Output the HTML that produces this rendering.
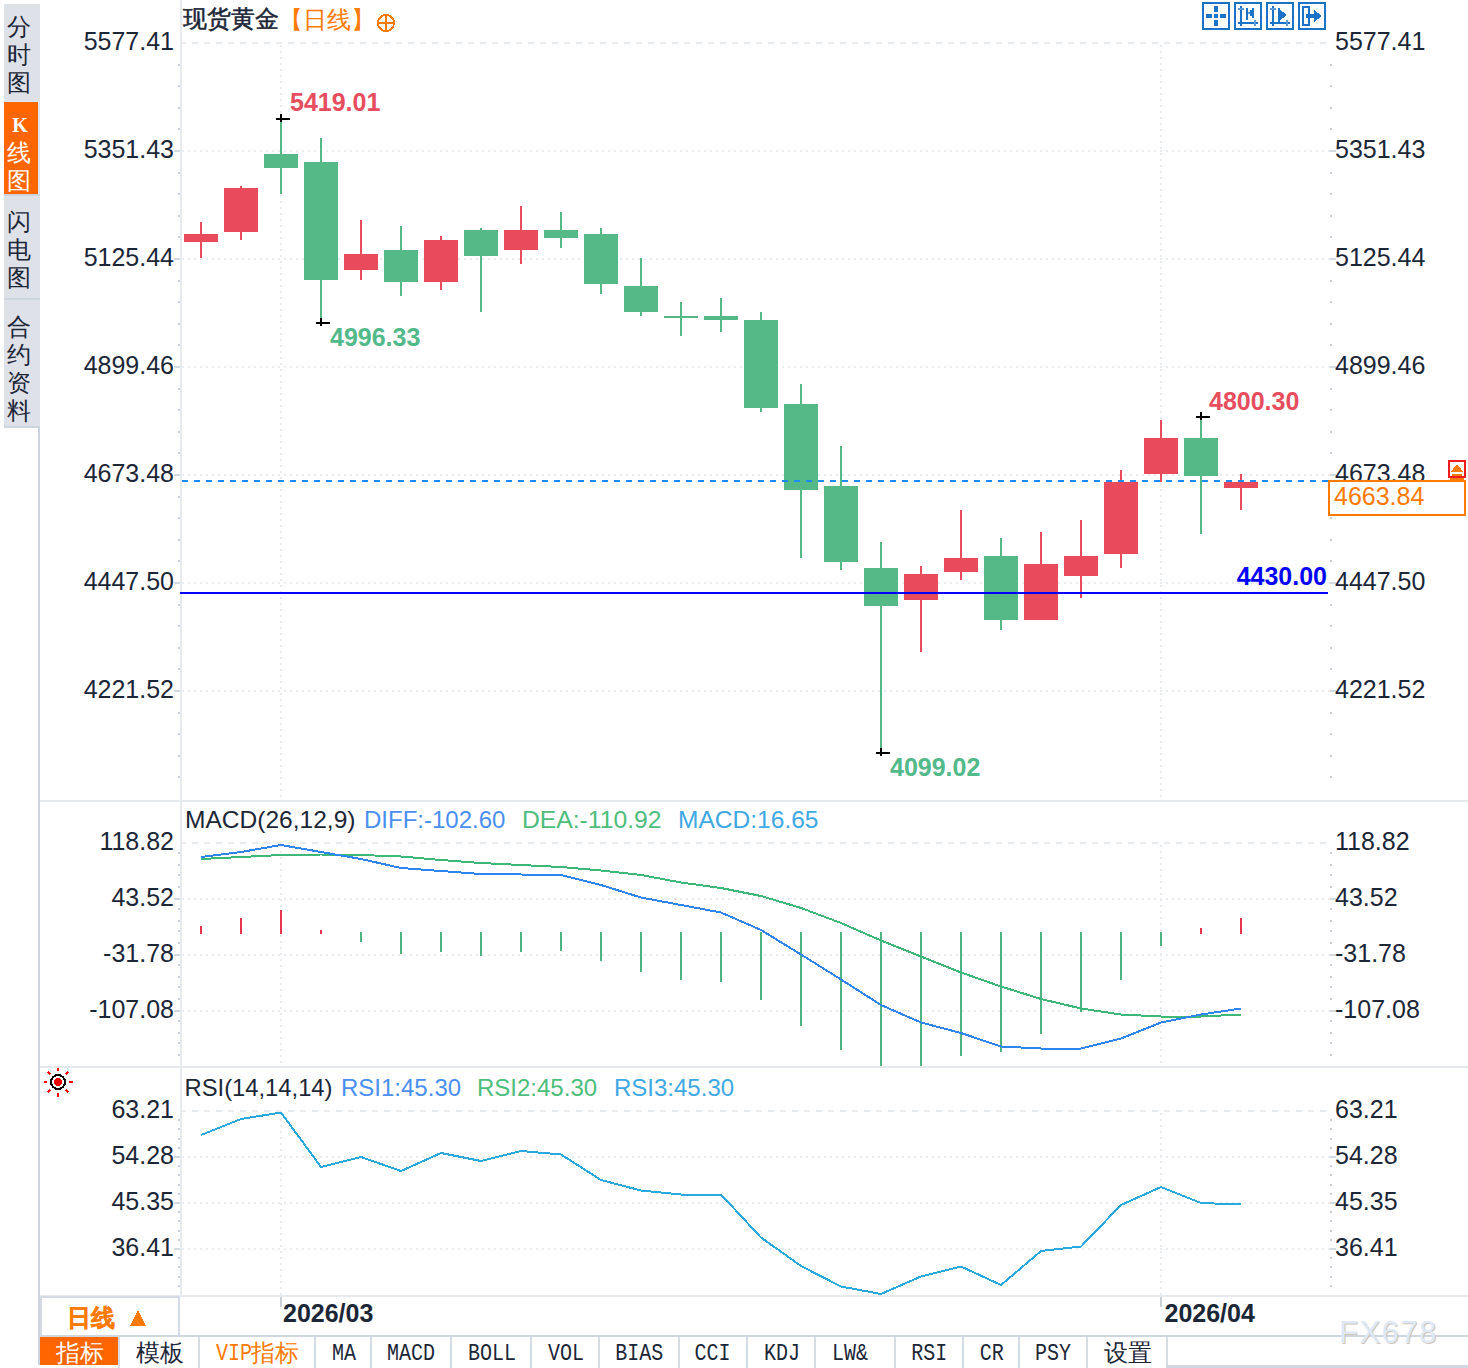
<!DOCTYPE html>
<html><head><meta charset="utf-8"><style>
html,body{margin:0;padding:0;background:#fff;}
body{width:1468px;height:1368px;overflow:hidden;}
svg{display:block;font-family:"Liberation Sans", sans-serif;}
</style></head><body>
<svg width="1468" height="1368" viewBox="0 0 1468 1368" shape-rendering="crispEdges">
<rect x="4" y="4" width="36" height="97" fill="#dfe1e8"/>
<rect x="4" y="101" width="36" height="1" fill="#dde8f4"/>
<rect x="4" y="102" width="34" height="92" fill="#ff6600"/>
<rect x="38" y="102" width="2" height="92" fill="#dde6f0"/>
<rect x="4" y="194" width="36" height="2" fill="#cdd6df"/>
<rect x="4" y="196" width="36" height="102" fill="#dfe1e8"/>
<rect x="4" y="298" width="36" height="2" fill="#cdd6df"/>
<rect x="4" y="300" width="36" height="126" fill="#dfe1e8"/>
<rect x="4" y="426" width="36" height="2" fill="#cdd6df"/>
<rect x="38" y="428" width="2" height="937" fill="#cdd5e0"/>
<text x="19" y="35" font-size="24" fill="#1b2637" text-anchor="middle" font-weight="500">分</text>
<text x="19" y="63" font-size="24" fill="#1b2637" text-anchor="middle" font-weight="500">时</text>
<text x="19" y="91" font-size="24" fill="#1b2637" text-anchor="middle" font-weight="500">图</text>
<text x="20" y="132" font-size="20" fill="#fff" text-anchor="middle" font-family="Liberation Serif" font-weight="bold">K</text>
<text x="19" y="161" font-size="24" fill="#fff" text-anchor="middle" font-weight="500">线</text>
<text x="19" y="189" font-size="24" fill="#fff" text-anchor="middle" font-weight="500">图</text>
<text x="19" y="230" font-size="24" fill="#1b2637" text-anchor="middle" font-weight="500">闪</text>
<text x="19" y="258" font-size="24" fill="#1b2637" text-anchor="middle" font-weight="500">电</text>
<text x="19" y="286" font-size="24" fill="#1b2637" text-anchor="middle" font-weight="500">图</text>
<text x="19" y="335" font-size="24" fill="#1b2637" text-anchor="middle" font-weight="500">合</text>
<text x="19" y="363" font-size="24" fill="#1b2637" text-anchor="middle" font-weight="500">约</text>
<text x="19" y="391" font-size="24" fill="#1b2637" text-anchor="middle" font-weight="500">资</text>
<text x="19" y="419" font-size="24" fill="#1b2637" text-anchor="middle" font-weight="500">料</text>
<text x="183" y="27" font-size="24" fill="#1b2637" font-weight="500" stroke="#1b2637" stroke-width="0.5">现货黄金</text>
<text x="279" y="28" font-size="24" fill="#ff7a00" font-weight="500">【日线】</text>
<circle cx="386" cy="23" r="8" fill="none" stroke="#ff7a00" stroke-width="2"/>
<rect x="377" y="22" width="18" height="2" fill="#ff7a00"/>
<rect x="385" y="14" width="2" height="18" fill="#ff7a00"/>
<rect x="1203" y="3" width="26" height="26" fill="none" stroke="#1a72c9" stroke-width="2"/>
<rect x="1235" y="3" width="26" height="26" fill="none" stroke="#1a72c9" stroke-width="2"/>
<rect x="1267" y="3" width="26" height="26" fill="none" stroke="#1a72c9" stroke-width="2"/>
<rect x="1299" y="3" width="26" height="26" fill="none" stroke="#1a72c9" stroke-width="2"/>
<rect x="1206" y="14" width="6" height="4" fill="#1a72c9"/>
<rect x="1214" y="14" width="4" height="4" fill="#1a72c9"/>
<rect x="1220" y="14" width="6" height="4" fill="#1a72c9"/>
<rect x="1214" y="6" width="4" height="6" fill="#1a72c9"/>
<rect x="1214" y="20" width="4" height="6" fill="#1a72c9"/>
<rect x="1240" y="6" width="2" height="20" fill="#1a72c9"/>
<rect x="1238" y="22" width="20" height="2" fill="#1a72c9"/>
<rect x="1238" y="8" width="6" height="2" fill="#5f9bd8"/>
<rect x="1254" y="20" width="2" height="6" fill="#5f9bd8"/>
<rect x="1272" y="6" width="2" height="20" fill="#1a72c9"/>
<rect x="1270" y="22" width="20" height="2" fill="#1a72c9"/>
<rect x="1270" y="8" width="6" height="2" fill="#5f9bd8"/>
<rect x="1286" y="20" width="2" height="6" fill="#5f9bd8"/>
<rect x="1246" y="8" width="2" height="12" fill="#1a72c9"/>
<rect x="1248" y="12" width="2" height="2" fill="#5f9bd8"/>
<rect x="1250" y="10" width="2" height="6" fill="#1a72c9"/>
<rect x="1252" y="8" width="2" height="10" fill="#1a72c9"/>
<polygon points="1278,8 1287,15 1278,22" fill="#1a72c9"/>
<rect x="1278" y="8" width="2" height="14" fill="#1a72c9"/>
<rect x="1303" y="7" width="6" height="18" fill="none" stroke="#1a72c9" stroke-width="2"/>
<rect x="1306" y="14" width="10" height="4" fill="#1a72c9"/>
<polygon points="1314,10 1322,16 1314,22" fill="#1a72c9"/>
<rect x="40" y="800" width="1428" height="2" fill="#e6eaef"/>
<rect x="40" y="1066" width="1428" height="2" fill="#e6eaef"/>
<rect x="40" y="1295" width="1428" height="2" fill="#e6eaef"/>
<rect x="180" y="0" width="2" height="1296" fill="#e6ebf0"/>
<line x1="182" y1="43" x2="1328" y2="43" stroke="#e8ebef" stroke-width="2" stroke-dasharray="6 6" stroke-dashoffset="2"/>
<text x="174" y="50" font-size="25" fill="#1b2637" text-anchor="end" font-weight="normal" >5577.41</text>
<text x="1335" y="50" font-size="25" fill="#1b2637" text-anchor="start" font-weight="normal" >5577.41</text>
<line x1="182" y1="151" x2="1330" y2="151" stroke="#e8ebef" stroke-width="2" stroke-dasharray="2 4" stroke-dashoffset="0"/>
<rect x="174" y="150" width="6" height="2" fill="#d5dbe3"/>
<rect x="1330" y="150" width="6" height="2" fill="#d5dbe3"/>
<text x="174" y="158" font-size="25" fill="#1b2637" text-anchor="end" font-weight="normal" >5351.43</text>
<text x="1335" y="158" font-size="25" fill="#1b2637" text-anchor="start" font-weight="normal" >5351.43</text>
<line x1="182" y1="259" x2="1330" y2="259" stroke="#e8ebef" stroke-width="2" stroke-dasharray="2 4" stroke-dashoffset="0"/>
<rect x="174" y="258" width="6" height="2" fill="#d5dbe3"/>
<rect x="1330" y="258" width="6" height="2" fill="#d5dbe3"/>
<text x="174" y="266" font-size="25" fill="#1b2637" text-anchor="end" font-weight="normal" >5125.44</text>
<text x="1335" y="266" font-size="25" fill="#1b2637" text-anchor="start" font-weight="normal" >5125.44</text>
<line x1="182" y1="367" x2="1330" y2="367" stroke="#e8ebef" stroke-width="2" stroke-dasharray="2 4" stroke-dashoffset="0"/>
<rect x="174" y="366" width="6" height="2" fill="#d5dbe3"/>
<rect x="1330" y="366" width="6" height="2" fill="#d5dbe3"/>
<text x="174" y="374" font-size="25" fill="#1b2637" text-anchor="end" font-weight="normal" >4899.46</text>
<text x="1335" y="374" font-size="25" fill="#1b2637" text-anchor="start" font-weight="normal" >4899.46</text>
<line x1="182" y1="475" x2="1330" y2="475" stroke="#e8ebef" stroke-width="2" stroke-dasharray="2 4" stroke-dashoffset="0"/>
<rect x="174" y="474" width="6" height="2" fill="#d5dbe3"/>
<rect x="1330" y="474" width="6" height="2" fill="#d5dbe3"/>
<text x="174" y="482" font-size="25" fill="#1b2637" text-anchor="end" font-weight="normal" >4673.48</text>
<text x="1335" y="482" font-size="25" fill="#1b2637" text-anchor="start" font-weight="normal" >4673.48</text>
<line x1="182" y1="583" x2="1330" y2="583" stroke="#e8ebef" stroke-width="2" stroke-dasharray="2 4" stroke-dashoffset="0"/>
<rect x="174" y="582" width="6" height="2" fill="#d5dbe3"/>
<rect x="1330" y="582" width="6" height="2" fill="#d5dbe3"/>
<text x="174" y="590" font-size="25" fill="#1b2637" text-anchor="end" font-weight="normal" >4447.50</text>
<text x="1335" y="590" font-size="25" fill="#1b2637" text-anchor="start" font-weight="normal" >4447.50</text>
<line x1="182" y1="691" x2="1330" y2="691" stroke="#e8ebef" stroke-width="2" stroke-dasharray="2 4" stroke-dashoffset="0"/>
<rect x="174" y="690" width="6" height="2" fill="#d5dbe3"/>
<rect x="1330" y="690" width="6" height="2" fill="#d5dbe3"/>
<text x="174" y="698" font-size="25" fill="#1b2637" text-anchor="end" font-weight="normal" >4221.52</text>
<text x="1335" y="698" font-size="25" fill="#1b2637" text-anchor="start" font-weight="normal" >4221.52</text>
<rect x="178" y="64" width="2" height="2" fill="#c9d0d9"/>
<rect x="1330" y="64" width="2" height="2" fill="#c9d0d9"/>
<rect x="178" y="85" width="2" height="2" fill="#c9d0d9"/>
<rect x="1330" y="85" width="2" height="2" fill="#c9d0d9"/>
<rect x="178" y="107" width="2" height="2" fill="#c9d0d9"/>
<rect x="1330" y="107" width="2" height="2" fill="#c9d0d9"/>
<rect x="178" y="128" width="2" height="2" fill="#c9d0d9"/>
<rect x="1330" y="128" width="2" height="2" fill="#c9d0d9"/>
<rect x="178" y="172" width="2" height="2" fill="#c9d0d9"/>
<rect x="1330" y="172" width="2" height="2" fill="#c9d0d9"/>
<rect x="178" y="193" width="2" height="2" fill="#c9d0d9"/>
<rect x="1330" y="193" width="2" height="2" fill="#c9d0d9"/>
<rect x="178" y="215" width="2" height="2" fill="#c9d0d9"/>
<rect x="1330" y="215" width="2" height="2" fill="#c9d0d9"/>
<rect x="178" y="236" width="2" height="2" fill="#c9d0d9"/>
<rect x="1330" y="236" width="2" height="2" fill="#c9d0d9"/>
<rect x="178" y="280" width="2" height="2" fill="#c9d0d9"/>
<rect x="1330" y="280" width="2" height="2" fill="#c9d0d9"/>
<rect x="178" y="301" width="2" height="2" fill="#c9d0d9"/>
<rect x="1330" y="301" width="2" height="2" fill="#c9d0d9"/>
<rect x="178" y="323" width="2" height="2" fill="#c9d0d9"/>
<rect x="1330" y="323" width="2" height="2" fill="#c9d0d9"/>
<rect x="178" y="344" width="2" height="2" fill="#c9d0d9"/>
<rect x="1330" y="344" width="2" height="2" fill="#c9d0d9"/>
<rect x="178" y="388" width="2" height="2" fill="#c9d0d9"/>
<rect x="1330" y="388" width="2" height="2" fill="#c9d0d9"/>
<rect x="178" y="409" width="2" height="2" fill="#c9d0d9"/>
<rect x="1330" y="409" width="2" height="2" fill="#c9d0d9"/>
<rect x="178" y="431" width="2" height="2" fill="#c9d0d9"/>
<rect x="1330" y="431" width="2" height="2" fill="#c9d0d9"/>
<rect x="178" y="452" width="2" height="2" fill="#c9d0d9"/>
<rect x="1330" y="452" width="2" height="2" fill="#c9d0d9"/>
<rect x="178" y="496" width="2" height="2" fill="#c9d0d9"/>
<rect x="1330" y="496" width="2" height="2" fill="#c9d0d9"/>
<rect x="178" y="517" width="2" height="2" fill="#c9d0d9"/>
<rect x="1330" y="517" width="2" height="2" fill="#c9d0d9"/>
<rect x="178" y="539" width="2" height="2" fill="#c9d0d9"/>
<rect x="1330" y="539" width="2" height="2" fill="#c9d0d9"/>
<rect x="178" y="560" width="2" height="2" fill="#c9d0d9"/>
<rect x="1330" y="560" width="2" height="2" fill="#c9d0d9"/>
<rect x="178" y="604" width="2" height="2" fill="#c9d0d9"/>
<rect x="1330" y="604" width="2" height="2" fill="#c9d0d9"/>
<rect x="178" y="625" width="2" height="2" fill="#c9d0d9"/>
<rect x="1330" y="625" width="2" height="2" fill="#c9d0d9"/>
<rect x="178" y="647" width="2" height="2" fill="#c9d0d9"/>
<rect x="1330" y="647" width="2" height="2" fill="#c9d0d9"/>
<rect x="178" y="668" width="2" height="2" fill="#c9d0d9"/>
<rect x="1330" y="668" width="2" height="2" fill="#c9d0d9"/>
<rect x="178" y="712" width="2" height="2" fill="#c9d0d9"/>
<rect x="1330" y="712" width="2" height="2" fill="#c9d0d9"/>
<rect x="178" y="733" width="2" height="2" fill="#c9d0d9"/>
<rect x="1330" y="733" width="2" height="2" fill="#c9d0d9"/>
<rect x="178" y="755" width="2" height="2" fill="#c9d0d9"/>
<rect x="1330" y="755" width="2" height="2" fill="#c9d0d9"/>
<rect x="178" y="776" width="2" height="2" fill="#c9d0d9"/>
<rect x="1330" y="776" width="2" height="2" fill="#c9d0d9"/>
<line x1="281" y1="45" x2="281" y2="800" stroke="#e8ebef" stroke-width="2" stroke-dasharray="2 4"/>
<line x1="1161" y1="45" x2="1161" y2="800" stroke="#e8ebef" stroke-width="2" stroke-dasharray="2 4"/>
<line x1="281" y1="845" x2="281" y2="1066" stroke="#e8ebef" stroke-width="2" stroke-dasharray="2 4"/>
<line x1="1161" y1="845" x2="1161" y2="1066" stroke="#e8ebef" stroke-width="2" stroke-dasharray="2 4"/>
<line x1="281" y1="1113" x2="281" y2="1296" stroke="#e8ebef" stroke-width="2" stroke-dasharray="2 4"/>
<line x1="1161" y1="1113" x2="1161" y2="1296" stroke="#e8ebef" stroke-width="2" stroke-dasharray="2 4"/>
<rect x="200" y="222" width="2" height="36" fill="#e94b5c"/>
<rect x="184" y="234" width="34" height="8" fill="#e94b5c"/>
<rect x="240" y="186" width="2" height="54" fill="#e94b5c"/>
<rect x="224" y="188" width="34" height="44" fill="#e94b5c"/>
<rect x="280" y="118" width="2" height="76" fill="#55b887"/>
<rect x="264" y="154" width="34" height="14" fill="#55b887"/>
<rect x="320" y="138" width="2" height="184" fill="#55b887"/>
<rect x="304" y="162" width="34" height="118" fill="#55b887"/>
<rect x="360" y="220" width="2" height="60" fill="#e94b5c"/>
<rect x="344" y="254" width="34" height="16" fill="#e94b5c"/>
<rect x="400" y="226" width="2" height="70" fill="#55b887"/>
<rect x="384" y="250" width="34" height="32" fill="#55b887"/>
<rect x="440" y="236" width="2" height="54" fill="#e94b5c"/>
<rect x="424" y="240" width="34" height="42" fill="#e94b5c"/>
<rect x="480" y="228" width="2" height="84" fill="#55b887"/>
<rect x="464" y="230" width="34" height="26" fill="#55b887"/>
<rect x="520" y="206" width="2" height="58" fill="#e94b5c"/>
<rect x="504" y="230" width="34" height="20" fill="#e94b5c"/>
<rect x="560" y="212" width="2" height="36" fill="#55b887"/>
<rect x="544" y="230" width="34" height="8" fill="#55b887"/>
<rect x="600" y="228" width="2" height="66" fill="#55b887"/>
<rect x="584" y="234" width="34" height="50" fill="#55b887"/>
<rect x="640" y="258" width="2" height="58" fill="#55b887"/>
<rect x="624" y="286" width="34" height="26" fill="#55b887"/>
<rect x="680" y="302" width="2" height="34" fill="#55b887"/>
<rect x="664" y="316" width="34" height="2" fill="#55b887"/>
<rect x="720" y="298" width="2" height="34" fill="#55b887"/>
<rect x="704" y="316" width="34" height="4" fill="#55b887"/>
<rect x="760" y="312" width="2" height="100" fill="#55b887"/>
<rect x="744" y="320" width="34" height="88" fill="#55b887"/>
<rect x="800" y="384" width="2" height="174" fill="#55b887"/>
<rect x="784" y="404" width="34" height="86" fill="#55b887"/>
<rect x="840" y="446" width="2" height="124" fill="#55b887"/>
<rect x="824" y="486" width="34" height="76" fill="#55b887"/>
<rect x="880" y="542" width="2" height="210" fill="#55b887"/>
<rect x="864" y="568" width="34" height="38" fill="#55b887"/>
<rect x="920" y="566" width="2" height="86" fill="#e94b5c"/>
<rect x="904" y="574" width="34" height="26" fill="#e94b5c"/>
<rect x="960" y="510" width="2" height="70" fill="#e94b5c"/>
<rect x="944" y="558" width="34" height="14" fill="#e94b5c"/>
<rect x="1000" y="538" width="2" height="92" fill="#55b887"/>
<rect x="984" y="556" width="34" height="64" fill="#55b887"/>
<rect x="1040" y="532" width="2" height="88" fill="#e94b5c"/>
<rect x="1024" y="564" width="34" height="56" fill="#e94b5c"/>
<rect x="1080" y="520" width="2" height="78" fill="#e94b5c"/>
<rect x="1064" y="556" width="34" height="20" fill="#e94b5c"/>
<rect x="1120" y="470" width="2" height="98" fill="#e94b5c"/>
<rect x="1104" y="482" width="34" height="72" fill="#e94b5c"/>
<rect x="1160" y="420" width="2" height="62" fill="#e94b5c"/>
<rect x="1144" y="438" width="34" height="36" fill="#e94b5c"/>
<rect x="1200" y="416" width="2" height="118" fill="#55b887"/>
<rect x="1184" y="438" width="34" height="38" fill="#55b887"/>
<rect x="1240" y="474" width="2" height="36" fill="#e94b5c"/>
<rect x="1224" y="482" width="34" height="6" fill="#e94b5c"/>
<rect x="276" y="118" width="14" height="2" fill="#000"/>
<rect x="280" y="114" width="2" height="8" fill="#000"/>
<rect x="316" y="322" width="14" height="2" fill="#000"/>
<rect x="320" y="318" width="2" height="8" fill="#000"/>
<rect x="876" y="752" width="14" height="2" fill="#000"/>
<rect x="880" y="748" width="2" height="8" fill="#000"/>
<rect x="1196" y="416" width="14" height="2" fill="#000"/>
<rect x="1200" y="412" width="2" height="8" fill="#000"/>
<text x="290" y="111" font-size="25" fill="#e84d5e" text-anchor="start" font-weight="bold" >5419.01</text>
<text x="330" y="346" font-size="25" fill="#52b98a" text-anchor="start" font-weight="bold" >4996.33</text>
<text x="890" y="776" font-size="25" fill="#52b98a" text-anchor="start" font-weight="bold" >4099.02</text>
<text x="1209" y="410" font-size="25" fill="#e84d5e" text-anchor="start" font-weight="bold" >4800.30</text>
<line x1="182" y1="481" x2="1328" y2="481" stroke="#1a8cff" stroke-width="2" stroke-dasharray="6 6"/>
<rect x="1329" y="481" width="136" height="34" fill="#fff" stroke="#ff7a00" stroke-width="2"/>
<text x="1334" y="505" font-size="25" fill="#ff7a00" text-anchor="start" font-weight="normal" >4663.84</text>
<rect x="180" y="592" width="1148" height="2" fill="#0000ff"/>
<text x="1327" y="585" font-size="25" fill="#0000ff" text-anchor="end" font-weight="bold" >4430.00</text>
<rect x="1449" y="461" width="16" height="16" fill="none" stroke="#ee1c1c" stroke-width="2"/>
<polygon points="1457,464 1463.5,472 1450.5,472" fill="#ff7a00"/>
<rect x="1452" y="474" width="10" height="2" fill="#ff7a00"/>
<rect x="1450" y="478" width="14" height="2" fill="#ff7a00"/>
<line x1="182" y1="843" x2="1328" y2="843" stroke="#e8ebef" stroke-width="2" stroke-dasharray="6 6" stroke-dashoffset="2"/>
<text x="174" y="850" font-size="25" fill="#1b2637" text-anchor="end" font-weight="normal" >118.82</text>
<text x="1335" y="850" font-size="25" fill="#1b2637" text-anchor="start" font-weight="normal" >118.82</text>
<line x1="182" y1="899" x2="1330" y2="899" stroke="#e8ebef" stroke-width="2" stroke-dasharray="2 4" stroke-dashoffset="0"/>
<rect x="174" y="898" width="6" height="2" fill="#d5dbe3"/>
<rect x="1330" y="898" width="6" height="2" fill="#d5dbe3"/>
<text x="174" y="906" font-size="25" fill="#1b2637" text-anchor="end" font-weight="normal" >43.52</text>
<text x="1335" y="906" font-size="25" fill="#1b2637" text-anchor="start" font-weight="normal" >43.52</text>
<line x1="182" y1="955" x2="1330" y2="955" stroke="#e8ebef" stroke-width="2" stroke-dasharray="2 4" stroke-dashoffset="0"/>
<rect x="174" y="954" width="6" height="2" fill="#d5dbe3"/>
<rect x="1330" y="954" width="6" height="2" fill="#d5dbe3"/>
<text x="174" y="962" font-size="25" fill="#1b2637" text-anchor="end" font-weight="normal" >-31.78</text>
<text x="1335" y="962" font-size="25" fill="#1b2637" text-anchor="start" font-weight="normal" >-31.78</text>
<line x1="182" y1="1011" x2="1330" y2="1011" stroke="#e8ebef" stroke-width="2" stroke-dasharray="2 4" stroke-dashoffset="0"/>
<rect x="174" y="1010" width="6" height="2" fill="#d5dbe3"/>
<rect x="1330" y="1010" width="6" height="2" fill="#d5dbe3"/>
<text x="174" y="1018" font-size="25" fill="#1b2637" text-anchor="end" font-weight="normal" >-107.08</text>
<text x="1335" y="1018" font-size="25" fill="#1b2637" text-anchor="start" font-weight="normal" >-107.08</text>
<rect x="178" y="852" width="2" height="2" fill="#c9d0d9"/>
<rect x="1330" y="852" width="2" height="2" fill="#c9d0d9"/>
<rect x="178" y="864" width="2" height="2" fill="#c9d0d9"/>
<rect x="1330" y="864" width="2" height="2" fill="#c9d0d9"/>
<rect x="178" y="874" width="2" height="2" fill="#c9d0d9"/>
<rect x="1330" y="874" width="2" height="2" fill="#c9d0d9"/>
<rect x="178" y="886" width="2" height="2" fill="#c9d0d9"/>
<rect x="1330" y="886" width="2" height="2" fill="#c9d0d9"/>
<rect x="178" y="908" width="2" height="2" fill="#c9d0d9"/>
<rect x="1330" y="908" width="2" height="2" fill="#c9d0d9"/>
<rect x="178" y="920" width="2" height="2" fill="#c9d0d9"/>
<rect x="1330" y="920" width="2" height="2" fill="#c9d0d9"/>
<rect x="178" y="930" width="2" height="2" fill="#c9d0d9"/>
<rect x="1330" y="930" width="2" height="2" fill="#c9d0d9"/>
<rect x="178" y="942" width="2" height="2" fill="#c9d0d9"/>
<rect x="1330" y="942" width="2" height="2" fill="#c9d0d9"/>
<rect x="178" y="964" width="2" height="2" fill="#c9d0d9"/>
<rect x="1330" y="964" width="2" height="2" fill="#c9d0d9"/>
<rect x="178" y="976" width="2" height="2" fill="#c9d0d9"/>
<rect x="1330" y="976" width="2" height="2" fill="#c9d0d9"/>
<rect x="178" y="986" width="2" height="2" fill="#c9d0d9"/>
<rect x="1330" y="986" width="2" height="2" fill="#c9d0d9"/>
<rect x="178" y="998" width="2" height="2" fill="#c9d0d9"/>
<rect x="1330" y="998" width="2" height="2" fill="#c9d0d9"/>
<rect x="178" y="1020" width="2" height="2" fill="#c9d0d9"/>
<rect x="1330" y="1020" width="2" height="2" fill="#c9d0d9"/>
<rect x="178" y="1032" width="2" height="2" fill="#c9d0d9"/>
<rect x="1330" y="1032" width="2" height="2" fill="#c9d0d9"/>
<rect x="178" y="1042" width="2" height="2" fill="#c9d0d9"/>
<rect x="1330" y="1042" width="2" height="2" fill="#c9d0d9"/>
<rect x="178" y="1054" width="2" height="2" fill="#c9d0d9"/>
<rect x="1330" y="1054" width="2" height="2" fill="#c9d0d9"/>
<text x="185" y="828" font-size="24" fill="#1b2637" text-anchor="start" font-weight="normal" textLength="170.5" lengthAdjust="spacingAndGlyphs">MACD(26,12,9)</text>
<text x="364" y="828" font-size="24" fill="#4a8ff0" text-anchor="start" font-weight="normal" >DIFF:-102.60</text>
<text x="522" y="828" font-size="24" fill="#4dbd7c" text-anchor="start" font-weight="normal" textLength="139.5" lengthAdjust="spacingAndGlyphs">DEA:-110.92</text>
<text x="678" y="828" font-size="24" fill="#3ea8e4" text-anchor="start" font-weight="normal" textLength="140.5" lengthAdjust="spacingAndGlyphs">MACD:16.65</text>
<rect x="200" y="926" width="2" height="8" fill="#e8364e"/>
<rect x="240" y="918" width="2" height="16" fill="#e8364e"/>
<rect x="280" y="910" width="2" height="24" fill="#e8364e"/>
<rect x="320" y="930" width="2" height="4" fill="#e8364e"/>
<rect x="360" y="932" width="2" height="10" fill="#4db382"/>
<rect x="400" y="932" width="2" height="22" fill="#4db382"/>
<rect x="440" y="932" width="2" height="20" fill="#4db382"/>
<rect x="480" y="932" width="2" height="24" fill="#4db382"/>
<rect x="520" y="932" width="2" height="20" fill="#4db382"/>
<rect x="560" y="932" width="2" height="19" fill="#4db382"/>
<rect x="600" y="932" width="2" height="29" fill="#4db382"/>
<rect x="640" y="932" width="2" height="39.5" fill="#4db382"/>
<rect x="680" y="932" width="2" height="47.5" fill="#4db382"/>
<rect x="720" y="932" width="2" height="49.5" fill="#4db382"/>
<rect x="760" y="932" width="2" height="67.5" fill="#4db382"/>
<rect x="800" y="932" width="2" height="93.5" fill="#4db382"/>
<rect x="840" y="932" width="2" height="117.5" fill="#4db382"/>
<rect x="880" y="932" width="2" height="133.5" fill="#4db382"/>
<rect x="920" y="932" width="2" height="133.5" fill="#4db382"/>
<rect x="960" y="932" width="2" height="123.5" fill="#4db382"/>
<rect x="1000" y="932" width="2" height="119.5" fill="#4db382"/>
<rect x="1040" y="932" width="2" height="101.5" fill="#4db382"/>
<rect x="1080" y="932" width="2" height="79.5" fill="#4db382"/>
<rect x="1120" y="932" width="2" height="47.5" fill="#4db382"/>
<rect x="1160" y="932" width="2" height="13.5" fill="#4db382"/>
<rect x="1200" y="928" width="2" height="6" fill="#e8364e"/>
<rect x="1240" y="918" width="2" height="16" fill="#e8364e"/>
<polyline points="201,859 241,857 281,855 321,854.5 361,855 401,856.5 441,860 481,863 521,865 561,867 601,870.5 641,875 681,882.5 721,888 761,896 801,908 841,923 881,940.5 921,956.5 961,972.5 1001,986.5 1041,999 1081,1008.5 1121,1014.5 1161,1016.5 1201,1016.5 1241,1014.5" fill="none" stroke="#3db878" stroke-width="2" stroke-linejoin="round"/>
<polyline points="201,857 241,852 281,845 321,852 361,859 401,868 441,871 481,874 521,874.5 561,875 601,885 641,897.5 681,905 721,912.5 761,930 801,954.5 841,979.5 881,1005 921,1022.5 961,1033 1001,1046.5 1041,1048.5 1081,1048.5 1121,1038.5 1161,1022.5 1201,1014.5 1241,1008.5" fill="none" stroke="#2f86f0" stroke-width="2" stroke-linejoin="round"/>
<line x1="182" y1="1111" x2="1328" y2="1111" stroke="#e8ebef" stroke-width="2" stroke-dasharray="6 6" stroke-dashoffset="2"/>
<text x="174" y="1118" font-size="25" fill="#1b2637" text-anchor="end" font-weight="normal" >63.21</text>
<text x="1335" y="1118" font-size="25" fill="#1b2637" text-anchor="start" font-weight="normal" >63.21</text>
<line x1="182" y1="1157" x2="1330" y2="1157" stroke="#e8ebef" stroke-width="2" stroke-dasharray="2 4" stroke-dashoffset="0"/>
<rect x="174" y="1156" width="6" height="2" fill="#d5dbe3"/>
<rect x="1330" y="1156" width="6" height="2" fill="#d5dbe3"/>
<text x="174" y="1164" font-size="25" fill="#1b2637" text-anchor="end" font-weight="normal" >54.28</text>
<text x="1335" y="1164" font-size="25" fill="#1b2637" text-anchor="start" font-weight="normal" >54.28</text>
<line x1="182" y1="1203" x2="1330" y2="1203" stroke="#e8ebef" stroke-width="2" stroke-dasharray="2 4" stroke-dashoffset="0"/>
<rect x="174" y="1202" width="6" height="2" fill="#d5dbe3"/>
<rect x="1330" y="1202" width="6" height="2" fill="#d5dbe3"/>
<text x="174" y="1210" font-size="25" fill="#1b2637" text-anchor="end" font-weight="normal" >45.35</text>
<text x="1335" y="1210" font-size="25" fill="#1b2637" text-anchor="start" font-weight="normal" >45.35</text>
<line x1="182" y1="1249" x2="1330" y2="1249" stroke="#e8ebef" stroke-width="2" stroke-dasharray="2 4" stroke-dashoffset="0"/>
<rect x="174" y="1248" width="6" height="2" fill="#d5dbe3"/>
<rect x="1330" y="1248" width="6" height="2" fill="#d5dbe3"/>
<text x="174" y="1256" font-size="25" fill="#1b2637" text-anchor="end" font-weight="normal" >36.41</text>
<text x="1335" y="1256" font-size="25" fill="#1b2637" text-anchor="start" font-weight="normal" >36.41</text>
<rect x="178" y="1119" width="2" height="2" fill="#c9d0d9"/>
<rect x="1330" y="1119" width="2" height="2" fill="#c9d0d9"/>
<rect x="178" y="1128" width="2" height="2" fill="#c9d0d9"/>
<rect x="1330" y="1128" width="2" height="2" fill="#c9d0d9"/>
<rect x="178" y="1138" width="2" height="2" fill="#c9d0d9"/>
<rect x="1330" y="1138" width="2" height="2" fill="#c9d0d9"/>
<rect x="178" y="1147" width="2" height="2" fill="#c9d0d9"/>
<rect x="1330" y="1147" width="2" height="2" fill="#c9d0d9"/>
<rect x="178" y="1165" width="2" height="2" fill="#c9d0d9"/>
<rect x="1330" y="1165" width="2" height="2" fill="#c9d0d9"/>
<rect x="178" y="1174" width="2" height="2" fill="#c9d0d9"/>
<rect x="1330" y="1174" width="2" height="2" fill="#c9d0d9"/>
<rect x="178" y="1184" width="2" height="2" fill="#c9d0d9"/>
<rect x="1330" y="1184" width="2" height="2" fill="#c9d0d9"/>
<rect x="178" y="1193" width="2" height="2" fill="#c9d0d9"/>
<rect x="1330" y="1193" width="2" height="2" fill="#c9d0d9"/>
<rect x="178" y="1211" width="2" height="2" fill="#c9d0d9"/>
<rect x="1330" y="1211" width="2" height="2" fill="#c9d0d9"/>
<rect x="178" y="1220" width="2" height="2" fill="#c9d0d9"/>
<rect x="1330" y="1220" width="2" height="2" fill="#c9d0d9"/>
<rect x="178" y="1230" width="2" height="2" fill="#c9d0d9"/>
<rect x="1330" y="1230" width="2" height="2" fill="#c9d0d9"/>
<rect x="178" y="1239" width="2" height="2" fill="#c9d0d9"/>
<rect x="1330" y="1239" width="2" height="2" fill="#c9d0d9"/>
<rect x="178" y="1257" width="2" height="2" fill="#c9d0d9"/>
<rect x="1330" y="1257" width="2" height="2" fill="#c9d0d9"/>
<rect x="178" y="1266" width="2" height="2" fill="#c9d0d9"/>
<rect x="1330" y="1266" width="2" height="2" fill="#c9d0d9"/>
<rect x="178" y="1276" width="2" height="2" fill="#c9d0d9"/>
<rect x="1330" y="1276" width="2" height="2" fill="#c9d0d9"/>
<rect x="178" y="1285" width="2" height="2" fill="#c9d0d9"/>
<rect x="1330" y="1285" width="2" height="2" fill="#c9d0d9"/>
<text x="184.5" y="1096" font-size="24" fill="#1b2637" text-anchor="start" font-weight="normal" textLength="148" lengthAdjust="spacingAndGlyphs">RSI(14,14,14)</text>
<text x="341" y="1096" font-size="24" fill="#4a8ff0" text-anchor="start" font-weight="normal" >RSI1:45.30</text>
<text x="477" y="1096" font-size="24" fill="#4dbd7c" text-anchor="start" font-weight="normal" >RSI2:45.30</text>
<text x="614" y="1096" font-size="24" fill="#3ea8e4" text-anchor="start" font-weight="normal" >RSI3:45.30</text>
<polyline points="201,1135 241,1119 281,1112.5 321,1167 361,1157 401,1171 441,1153 481,1161 521,1151 561,1154.5 601,1180 641,1190.5 681,1194.5 721,1194.5 761,1237.5 801,1266 841,1286.5 881,1294 921,1276.5 961,1266.5 1001,1285 1041,1251 1081,1246.5 1121,1205 1161,1187 1201,1203 1241,1204.5" fill="none" stroke="#2aa8e0" stroke-width="2" stroke-linejoin="round"/>
<line x1="69.0" y1="1082.0" x2="72.5" y2="1082.0" stroke="#ff0000" stroke-width="2"/>
<line x1="65.8" y1="1089.8" x2="68.3" y2="1092.3" stroke="#ff0000" stroke-width="2"/>
<line x1="58.0" y1="1093.0" x2="58.0" y2="1096.5" stroke="#ff0000" stroke-width="2"/>
<line x1="50.2" y1="1089.8" x2="47.7" y2="1092.3" stroke="#ff0000" stroke-width="2"/>
<line x1="47.0" y1="1082.0" x2="43.5" y2="1082.0" stroke="#ff0000" stroke-width="2"/>
<line x1="50.2" y1="1074.2" x2="47.7" y2="1071.7" stroke="#ff0000" stroke-width="2"/>
<line x1="58.0" y1="1071.0" x2="58.0" y2="1067.5" stroke="#ff0000" stroke-width="2"/>
<line x1="65.8" y1="1074.2" x2="68.3" y2="1071.7" stroke="#ff0000" stroke-width="2"/>
<circle cx="58" cy="1082" r="7" fill="none" stroke="#000" stroke-width="2"/>
<circle cx="58" cy="1082" r="4" fill="#ff0000"/>
<rect x="40" y="1296" width="140" height="2" fill="#d3dae3"/>
<rect x="40" y="1296" width="2" height="40" fill="#d3dae3"/>
<rect x="178" y="1296" width="2" height="40" fill="#d3dae3"/>
<rect x="280" y="1297" width="2" height="10" fill="#c8d0da"/>
<rect x="1160" y="1297" width="2" height="10" fill="#c8d0da"/>
<text x="283" y="1322" font-size="25" fill="#1b2637" text-anchor="start" font-weight="bold" >2026/03</text>
<text x="1164.5" y="1322" font-size="25" fill="#1b2637" text-anchor="start" font-weight="bold" >2026/04</text>
<text x="67" y="1326" font-size="24" fill="#ff7a00" font-weight="bold" stroke="#ff7a00" stroke-width="0.4">日线</text>
<polygon points="138,1310 146,1326 130,1326" fill="#ff7a00"/>
<rect x="40" y="1335" width="1428" height="2" fill="#cfd6df"/>
<rect x="40" y="1337" width="78" height="28" fill="#ff6600"/>
<rect x="118" y="1337" width="2" height="31" fill="#d5dce4"/>
<rect x="198" y="1337" width="2" height="31" fill="#d5dce4"/>
<rect x="314" y="1337" width="2" height="31" fill="#d5dce4"/>
<rect x="370" y="1337" width="2" height="31" fill="#d5dce4"/>
<rect x="450" y="1337" width="2" height="31" fill="#d5dce4"/>
<rect x="530" y="1337" width="2" height="31" fill="#d5dce4"/>
<rect x="598" y="1337" width="2" height="31" fill="#d5dce4"/>
<rect x="678" y="1337" width="2" height="31" fill="#d5dce4"/>
<rect x="746" y="1337" width="2" height="31" fill="#d5dce4"/>
<rect x="814" y="1337" width="2" height="31" fill="#d5dce4"/>
<rect x="894" y="1337" width="2" height="31" fill="#d5dce4"/>
<rect x="962" y="1337" width="2" height="31" fill="#d5dce4"/>
<rect x="1018" y="1337" width="2" height="31" fill="#d5dce4"/>
<rect x="1086" y="1337" width="2" height="31" fill="#d5dce4"/>
<rect x="1166" y="1337" width="2" height="31" fill="#d5dce4"/>
<rect x="1166" y="1365" width="302" height="3" fill="#d0d7e0"/>
<text x="56" y="1361" font-size="24" fill="#fff" font-weight="500">指标</text>
<text x="136" y="1361" font-size="24" fill="#1b2637" font-weight="500">模板</text>
<text x="234" y="1133.33" transform="scale(1,1.2)" font-family="Liberation Mono" font-size="20" fill="#ff7a00" text-anchor="middle">VIP</text>
<text x="251" y="1361" font-size="24" fill="#ff7a00" font-weight="500">指标</text>
<text x="1104" y="1361" font-size="24" fill="#1b2637" font-weight="500">设置</text>
<text x="344.0" y="1133.33" transform="scale(1,1.2)" font-family="Liberation Mono" font-size="20" fill="#1b2637" text-anchor="middle">MA</text>
<text x="411.0" y="1133.33" transform="scale(1,1.2)" font-family="Liberation Mono" font-size="20" fill="#1b2637" text-anchor="middle">MACD</text>
<text x="492.0" y="1133.33" transform="scale(1,1.2)" font-family="Liberation Mono" font-size="20" fill="#1b2637" text-anchor="middle">BOLL</text>
<text x="566.0" y="1133.33" transform="scale(1,1.2)" font-family="Liberation Mono" font-size="20" fill="#1b2637" text-anchor="middle">VOL</text>
<text x="639.25" y="1133.33" transform="scale(1,1.2)" font-family="Liberation Mono" font-size="20" fill="#1b2637" text-anchor="middle">BIAS</text>
<text x="712.5" y="1133.33" transform="scale(1,1.2)" font-family="Liberation Mono" font-size="20" fill="#1b2637" text-anchor="middle">CCI</text>
<text x="782.0" y="1133.33" transform="scale(1,1.2)" font-family="Liberation Mono" font-size="20" fill="#1b2637" text-anchor="middle">KDJ</text>
<text x="850.0" y="1133.33" transform="scale(1,1.2)" font-family="Liberation Mono" font-size="20" fill="#1b2637" text-anchor="middle">LW&amp;</text>
<text x="929.25" y="1133.33" transform="scale(1,1.2)" font-family="Liberation Mono" font-size="20" fill="#1b2637" text-anchor="middle">RSI</text>
<text x="991.75" y="1133.33" transform="scale(1,1.2)" font-family="Liberation Mono" font-size="20" fill="#1b2637" text-anchor="middle">CR</text>
<text x="1053.0" y="1133.33" transform="scale(1,1.2)" font-family="Liberation Mono" font-size="20" fill="#1b2637" text-anchor="middle">PSY</text>
<text x="1340" y="1344" font-size="31" fill="#c9b7a6" letter-spacing="1.5" opacity="0.8">FX678</text>
<text x="1339" y="1343" font-size="31" fill="#dde9f7" letter-spacing="1.5">FX678</text>
</svg></body></html>
